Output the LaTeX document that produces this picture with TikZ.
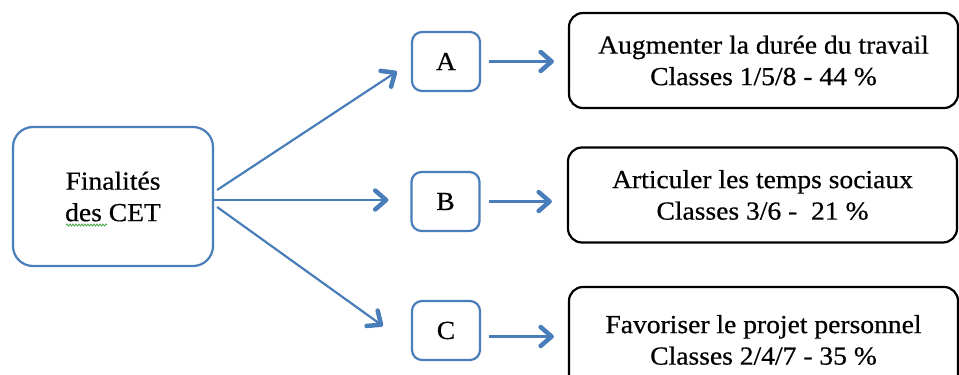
\documentclass[tikz,border=0pt]{standalone}
\usepackage{fontspec}
\setmainfont[FakeStretch=1.06,FakeBold=0.6]{Liberation Serif}
\usetikzlibrary{arrows.meta,decorations.pathmorphing}
\definecolor{boxblue}{RGB}{74,126,187}
\definecolor{spellgreen}{RGB}{70,165,70}

\begin{document}
\begin{tikzpicture}[x=1pt,y=-1pt,line width=2.2pt,font=\fontsize{26}{31.5}\selectfont]
  \tikzstyle{goal}=[draw=boxblue,rounded corners=20pt,align=center,minimum width=200pt,minimum height=139pt]
  \tikzstyle{letter}=[draw=boxblue,rounded corners=10pt,minimum width=68pt,minimum height=59pt]
  \tikzstyle{target}=[draw=black,rounded corners=14pt,align=center,minimum width=389pt,minimum height=95pt]
  \tikzstyle{line} = [draw=boxblue, -{Straight Barb[length=11pt,width=19pt,line width'=4.5pt,round]}]
  \useasboundingbox (0,0) rectangle (959,375);
  \node[goal] (CET) at (113,196.5) {Finalités\\des CET};
  \node[letter] (A) at (446,61.5)  {A};
  \node[letter] (B) at (445.5,201.5) {B};
  \node[letter] (C) at (446,330.5) {C};
  \node[target] (T1) at (763.5,60.5) {Augmenter la durée du travail\\Classes 1/5/8 - 44 \%};
  \node[target] (T2) at (762.5,195) {Articuler les temps sociaux\\Classes 3/6 -\ \ 21 \%};
  \node[target,minimum height=106pt] (T3) at (763.5,340) {Favoriser le projet personnel\\Classes 2/4/7 - 35 \%};
  % spelling mark
  \draw[spellgreen,line width=0.8pt,decorate,decoration={snake,amplitude=1pt,segment length=3pt}] (66,225) -- (107,225);
  % arrows
  \draw[line] ([xshift=3pt,yshift=6.5pt]CET.east) -- ([xshift=-14pt,yshift=-10pt]A.west);
  \draw[line] ([yshift=-3.5pt]CET.east) -- ([xshift=-22pt,yshift=1.5pt]B.west);
  \draw[line] ([xshift=3pt,yshift=-10.5pt]CET.east) -- ([xshift=-28pt,yshift=4.5pt]C.west);
  \draw[line,shorten <=8pt,shorten >=14pt] (A.east) -- (A.east -| T1.west);
  \draw[line,shorten <=8pt,shorten >=15pt] (B.east) -- (B.east -| T2.west);
  \draw[line,shorten <=8pt,shorten >=14pt] ([yshift=-6pt]C.east) -- ([yshift=-6pt]C.east -| T3.west);
\end{tikzpicture}
\end{document}
